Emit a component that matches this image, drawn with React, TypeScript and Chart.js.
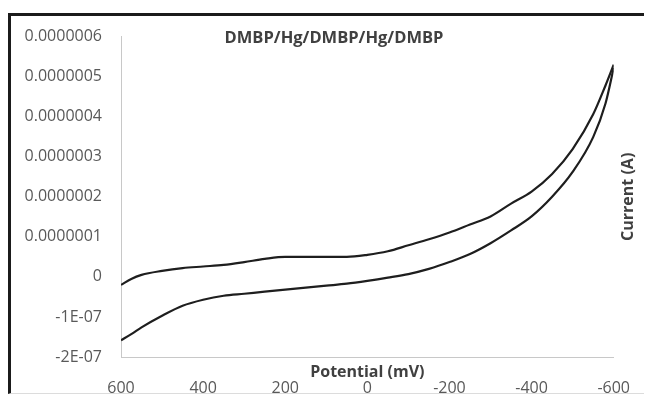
import React, { useEffect, useRef } from "react";
import { Chart, registerables } from "chart.js";

Chart.register(...registerables);

// Potential (mV) sampled along both branches of the voltammogram
const potentials = [600, 575, 550, 500, 450, 400, 350, 300, 250, 200, 150, 100, 50, 0, -50, -100, -150, -200, -250, -300, -350, -400, -450, -500, -550, -580, -600];

// Current (A) – upper branch
const currentUpper = [-2.0e-8, -5e-9, 5e-9, 1.5e-8, 2.2e-8, 2.6e-8, 3.0e-8, 3.7e-8, 4.5e-8, 5.0e-8, 5.0e-8, 5.0e-8, 5.0e-8, 5.5e-8, 6.4e-8, 7.9e-8, 9.4e-8, 1.11e-7, 1.31e-7, 1.51e-7, 1.83e-7, 2.13e-7, 2.57e-7, 3.19e-7, 4.06e-7, 4.78e-7, 5.3e-7];

// Current (A) – lower branch
const currentLower = [-1.58e-7, -1.43e-7, -1.26e-7, -9.7e-8, -7.2e-8, -5.7e-8, -4.7e-8, -4.2e-8, -3.7e-8, -3.2e-8, -2.7e-8, -2.2e-8, -1.7e-8, -1.0e-8, -2e-9, 7e-9, 2.0e-8, 3.7e-8, 5.7e-8, 8.4e-8, 1.16e-7, 1.51e-7, 2.0e-7, 2.62e-7, 3.49e-7, 4.33e-7, 5.22e-7];

const xTickValues = [600, 400, 200, 0, -200, -400, -600];
const xTickLabels = ["600", "400", "200", "0", "-200", "-400", "-600"];
const yTickLabels = ["-2E-07", "-1E-07", "0", "0.0000001", "0.0000002", "0.0000003", "0.0000004", "0.0000005", "0.0000006"];

const chartTitle = "DMBP/Hg/DMBP/Hg/DMBP";
const xTitle = "Potential (mV)";
const yTitle = "Current (A)";

const FONT = '"Open Sans", "DejaVu Sans", sans-serif';

const textPlugin = {
  id: "excelTexts",
  afterDraw(chart: any) {
    const { ctx, chartArea } = chart;
    ctx.save();
    ctx.fillStyle = "#404040";
    ctx.textAlign = "center";
    ctx.textBaseline = "middle";
    ctx.font = `bold 16.5px ${FONT}`;
    ctx.fillText(chartTitle, 326, 30);
    ctx.font = `bold 16px ${FONT}`;
    ctx.fillText(xTitle, (chartArea.left + chartArea.right) / 2, chartArea.bottom + 15);
    ctx.translate(chartArea.right + 15, (chartArea.top + chartArea.bottom) / 2);
    ctx.rotate(-Math.PI / 2);
    ctx.fillText(yTitle, 0, 0);
    ctx.restore();
  },
};

export default function App() {
  const ref = useRef<HTMLCanvasElement | null>(null);

  useEffect(() => {
    if (!ref.current) return;
    const toPts = (ys: number[]) => potentials.map((x, i) => ({ x, y: ys[i] }));
    const chart = new Chart(ref.current, {
      type: "scatter",
      data: {
        datasets: [
          {
            data: toPts(currentUpper),
            showLine: true,
            borderColor: "#1e1e1e",
            borderWidth: 2.2,
            pointRadius: 0,
            cubicInterpolationMode: "monotone",
          },
          {
            data: toPts(currentLower),
            showLine: true,
            borderColor: "#1e1e1e",
            borderWidth: 2.2,
            pointRadius: 0,
            cubicInterpolationMode: "monotone",
          },
        ],
      },
      options: {
        animation: false,
        responsive: false,
        devicePixelRatio: 1,
        layout: { padding: { top: 27, right: 32, left: 0, bottom: 0 } },
        plugins: {
          legend: { display: false },
          title: { display: false },
          tooltip: { enabled: false },
        },
        scales: {
          x: {
            type: "linear",
            reverse: true,
            min: -600,
            max: 600,
            afterFit: (s: any) => {
              s.height = 38;
            },
            grid: { display: false, drawTicks: false },
            border: { display: true, color: "#c8c8c8", width: 1 },
            ticks: {
              stepSize: 200,
              padding: 22,
              color: "#595959",
              font: { family: FONT, size: 16 },
              autoSkip: false,
              maxRotation: 0,
              callback: (v: any) => {
                const k = xTickValues.indexOf(Number(v));
                return k >= 0 ? xTickLabels[k] : "";
              },
            },
          },
          y: {
            type: "linear",
            min: -2e-7,
            max: 6e-7,
            afterFit: (s: any) => {
              s.width = 113;
            },
            grid: { display: false, drawTicks: false },
            border: { display: true, color: "#c8c8c8", width: 1 },
            ticks: {
              stepSize: 1e-7,
              padding: 19,
              color: "#595959",
              font: { family: FONT, size: 16 },
              autoSkip: false,
              callback: (_v: any, i: number) => yTickLabels[i],
            },
          },
        },
      },
      plugins: [textPlugin],
    });
    return () => chart.destroy();
  }, []);

  return (
    <div style={{ position: "relative", width: 644, height: 387 }}>
      <div
        style={{
          position: "absolute",
          left: 0,
          top: 5,
          right: 0,
          bottom: 1,
          borderTop: "3px solid #1b1b1b",
          borderLeft: "3px solid #1b1b1b",
          borderBottom: "1px solid #dcdcdc",
          boxSizing: "border-box",
        }}
      />
      <canvas ref={ref} width={644} height={387} style={{ position: "absolute", left: 0, top: 0, width: 644, height: 387 }} />
    </div>
  );
}
